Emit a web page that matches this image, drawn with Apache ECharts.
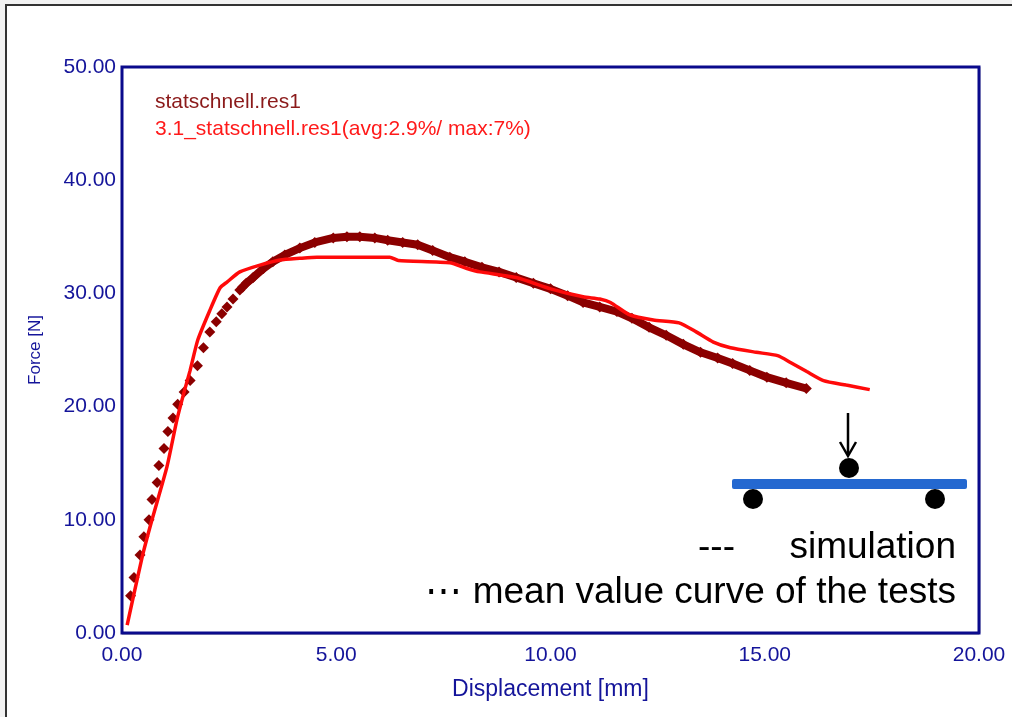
<!DOCTYPE html>
<html>
<head>
<meta charset="utf-8">
<script src="https://cdn.jsdelivr.net/npm/echarts@6/dist/echarts.min.js"></script>
<style>
  html, body { margin: 0; padding: 0; background: #f2f2f2; }
  #chart { width: 1012px; height: 717px; }
</style>
</head>
<body>
<div id="chart"></div>
<script>
// mean value curve of the tests
const testX = [0.2, 0.28, 0.42, 0.51, 0.63, 0.70, 0.82, 0.86, 0.98, 1.07, 1.19, 1.30, 1.45, 1.59, 1.76, 1.9, 2.05, 2.2, 2.33, 2.45,
  2.59, 2.75, 2.9, 3.06, 3.3, 3.52, 3.8, 4.15, 4.5, 4.93, 5.25, 5.55, 5.9, 6.2, 6.55, 6.9, 7.25, 7.65, 8.0, 8.4,
  8.8, 9.2, 9.6, 10.0, 10.4, 10.76, 11.15, 11.55, 11.9, 12.3, 12.7, 13.1, 13.5, 13.9, 14.25, 14.65, 15.05, 15.5, 15.97];
const testY = [3.3, 4.9, 6.9, 8.5, 10.0, 11.8, 13.3, 14.8, 16.3, 17.8, 19.0, 20.2, 21.3, 22.3, 23.6, 25.2, 26.6, 27.5, 28.2, 28.8,
  29.5, 30.3, 30.9, 31.4, 32.2, 32.8, 33.4, 34.0, 34.5, 34.9, 35.0, 35.0, 34.9, 34.7, 34.5, 34.3, 33.8, 33.2, 32.8, 32.3,
  31.9, 31.4, 30.9, 30.4, 29.8, 29.2, 28.8, 28.4, 27.8, 27.0, 26.3, 25.5, 24.8, 24.3, 23.8, 23.2, 22.6, 22.1, 21.6];

// simulation curve
const simX = [0.12, 0.47, 0.7, 1.05, 1.28, 1.45, 1.59, 1.77, 2.05, 2.29, 2.45, 2.75, 3.22, 3.69, 4.15, 4.55, 6.25, 6.45, 7.65, 8.05,
  8.35, 9.2, 10.0, 10.76, 11.15, 11.4, 11.85, 12.4, 13.0, 13.4, 13.8, 14.2, 14.8, 15.3, 15.6, 15.98, 16.37, 16.9, 17.45];
const simY = [0.7, 6.7, 10.0, 14.7, 18.8, 21.3, 23.2, 25.9, 28.5, 30.5, 31.0, 31.9, 32.5, 32.95, 33.1, 33.2, 33.2, 32.9, 32.7, 32.2,
  31.9, 31.4, 30.4, 29.7, 29.5, 29.2, 28.1, 27.65, 27.4, 26.6, 25.7, 25.2, 24.8, 24.5, 23.9, 23.1, 22.3, 21.9, 21.5];

const legendNames = ['statschnell.res1', '3.1_statschnell.res1(avg:2.9%/ max:7%)'];
const xTicks = { min: 0, max: 20, interval: 5 };
const yTicks = { min: 0, max: 50, interval: 10 };

const navy = '#14149a';
const font = 'Arial, "Liberation Sans", sans-serif';

const chart = echarts.init(document.getElementById('chart'));

const zip = (xs, ys) => xs.map((x, i) => [x, ys[i]]);
const testData = zip(testX, testY);
// from about 2.6 mm on the markers sit so close they form a band
const bandStart = testX.findIndex((x) => x >= 2.6);

chart.setOption({
  backgroundColor: 'transparent',
  animation: false,
  grid: {
    left: 122,
    right: 33,
    top: 67,
    bottom: 84,
    show: true,
    backgroundColor: '#fff',
    borderColor: '#0a0a8c',
    borderWidth: 3,
    z: 1,
  },
  xAxis: {
    type: 'value',
    min: xTicks.min,
    max: xTicks.max,
    interval: xTicks.interval,
    name: 'Displacement [mm]',
    nameLocation: 'middle',
    nameGap: 45,
    nameTextStyle: { color: navy, fontSize: 23, fontFamily: font },
    axisLine: { show: false },
    axisTick: { show: false },
    axisLabel: {
      color: navy,
      fontSize: 21,
      fontFamily: font,
      margin: 12,
      formatter: (v) => v.toFixed(2),
    },
    splitLine: { lineStyle: { color: '#111', width: 1.3 } },
  },
  yAxis: {
    type: 'value',
    min: yTicks.min,
    max: yTicks.max,
    interval: yTicks.interval,
    name: 'Force [N]',
    nameLocation: 'middle',
    nameGap: 78,
    nameTextStyle: { color: navy, fontSize: 17, fontFamily: font },
    axisLine: { show: false },
    axisTick: { show: false },
    axisLabel: {
      color: navy,
      fontSize: 21,
      fontFamily: font,
      margin: 6,
      formatter: (v) => v.toFixed(2),
    },
    splitLine: { lineStyle: { color: '#111', width: 1.3 } },
  },
  series: [
    {
      name: legendNames[0] + ' band',
      type: 'line',
      data: testData.slice(bandStart),
      showSymbol: false,
      lineStyle: { color: '#8b0000', width: 8 },
      z: 3,
    },
    {
      name: legendNames[0],
      type: 'line',
      data: testData,
      symbol: 'diamond',
      symbolSize: 11,
      itemStyle: { color: '#8b0000' },
      lineStyle: { width: 0 },
      z: 3,
    },
    {
      name: legendNames[1],
      type: 'line',
      data: zip(simX, simY),
      showSymbol: false,
      smooth: 0.2,
      lineStyle: { color: '#ff0a0a', width: 3.5 },
      z: 4,
    },
  ],
  graphic: [
    // outer frame of the screenshot
    {
      type: 'rect',
      shape: { x: 6, y: 5, width: 1200, height: 900 },
      style: { fill: '#fff', stroke: '#333', lineWidth: 2 },
      z: -10,
    },
    {
      type: 'text',
      left: 155,
      top: 92,
      style: { text: legendNames[0], fill: '#8b1a1a', font: '21px ' + font },
      z: 10,
    },
    {
      type: 'text',
      left: 155,
      top: 119,
      style: { text: legendNames[1], fill: '#ff1a1a', font: '21px ' + font },
      z: 10,
    },
    // bending test sketch
    {
      type: 'rect',
      shape: { x: 732, y: 479, width: 235, height: 10, r: 2 },
      style: { fill: '#2468d0' },
      z: 10,
    },
    { type: 'circle', shape: { cx: 849, cy: 468, r: 10 }, style: { fill: '#000' }, z: 10 },
    { type: 'circle', shape: { cx: 753, cy: 499, r: 10 }, style: { fill: '#000' }, z: 10 },
    { type: 'circle', shape: { cx: 935, cy: 499, r: 10 }, style: { fill: '#000' }, z: 10 },
    {
      type: 'line',
      shape: { x1: 848, y1: 413, x2: 848, y2: 455 },
      style: { stroke: '#000', lineWidth: 2.5 },
      z: 10,
    },
    {
      type: 'polyline',
      shape: { points: [[840, 442], [848, 456], [856, 442]] },
      style: { stroke: '#000', lineWidth: 2.5, fill: null },
      z: 10,
    },
    {
      type: 'text',
      x: 698,
      y: 548,
      style: { text: '---', fill: '#000', font: '37px ' + font, textVerticalAlign: 'middle' },
      z: 10,
    },
    {
      type: 'text',
      x: 956,
      y: 548,
      style: { text: 'simulation', fill: '#000', font: '37px ' + font, textAlign: 'right', textVerticalAlign: 'middle' },
      z: 10,
    },
    {
      type: 'text',
      x: 956,
      y: 593,
      style: { text: '\u22ef mean value curve of the tests', fill: '#000', font: '37px ' + font, textAlign: 'right', textVerticalAlign: 'middle' },
      z: 10,
    },
  ],
});
</script>
</body>
</html>
